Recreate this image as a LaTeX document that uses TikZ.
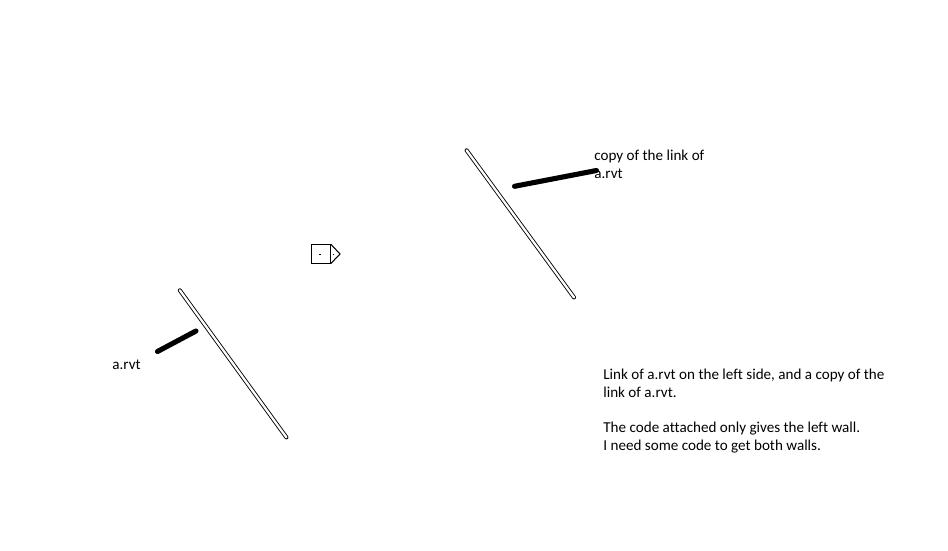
\documentclass[tikz,border=0pt]{standalone}
\usepackage{fontspec}
\setmainfont[Ligatures=NoCommon]{Carlito}

\tikzset{
	wall/.style={line width=2.3pt,line cap=round,black},
	wallcore/.style={line width=1.3pt,line cap=round,white},
	linkbar/.style={line width=2.9pt,line cap=round,black},
	note/.style={inner sep=0pt,anchor=west,align=left,font=\fontsize{8.6}{10.2}\selectfont},
	mark box/.style={line width=0.6pt,black,line join=miter}
}

\begin{document}
\begin{tikzpicture}[x=0.02cm,y=0.02cm]
		\useasboundingbox (0,0) rectangle (948,-551);
		% left wall and its link
		\coordinate (wallAtop) at (179.8,-290.3);
		\coordinate (wallAend) at (286.4,-437.4);
		\draw [wall] (wallAtop) -- (wallAend);
		\draw [wallcore] (wallAtop) -- (wallAend);
		\coordinate (linkAstart) at (157.5,-351.5);
		\coordinate (linkAend) at (196,-331);
		\draw [linkbar] (linkAstart) -- (linkAend);
		\node [note] (labelA) at (112,-365) {a.rvt};
		% right wall and the copy
		\coordinate (wallBtop) at (466.6,-150.3);
		\coordinate (wallBend) at (574,-297.4);
		\draw [wall] (wallBtop) -- (wallBend);
		\draw [wallcore] (wallBtop) -- (wallBend);
		\coordinate (linkBstart) at (514.5,-186.3);
		\coordinate (linkBend) at (596.5,-170.5);
		\draw [linkbar] (linkBstart) -- (linkBend);
		\node [note] (labelB) at (594,-164.5) {copy of the link of\\a.rvt};
		% the small marker
		\draw [mark box] (311.5,-244.2) rectangle (330.8,-263.6);
		\draw [mark box] (330.8,-244.2) -- (340,-254) -- (330.8,-263.6);
		\fill (319,-254) rectangle (321,-255);
		\fill (332.5,-254) rectangle (334,-255);
		% remarks
		\node [note] (remarks) at (603,-411) {Link of a.rvt on the left side, and a copy of the\\link of a.rvt.\\[10.2pt]The code attached only gives the left wall.\\I need some code to get both walls.};
	\end{tikzpicture}
\end{document}
